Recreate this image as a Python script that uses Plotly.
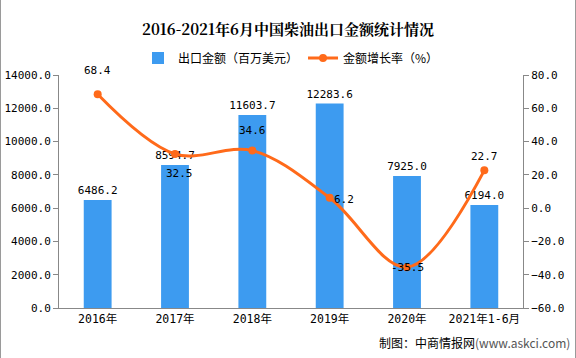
import plotly.graph_objects as go

categories = ["2016年", "2017年", "2018年", "2019年", "2020年", "2021年1-6月"]
export_value = [6486.2, 8594.7, 11603.7, 12283.6, 7925.0, 6194.0]
growth_rate = [68.4, 32.5, 34.6, 6.2, -35.5, 22.7]
left_ticks = [0, 2000, 4000, 6000, 8000, 10000, 12000, 14000]
right_ticks = [-60, -40, -20, 0, 20, 40, 60, 80]

num_font = "DejaVu Sans Mono, Noto Sans CJK SC"
cjk_font = "Noto Sans CJK SC"

fig = go.Figure()
fig.add_trace(go.Bar(
    x=categories, y=export_value, name="出口金额（百万美元）",
    marker=dict(color="#3D9BF0", line=dict(width=0)),
    width=0.36,
    text=[f"{v:.1f}" for v in export_value], textposition="outside",
    constraintext="none",
    textfont=dict(family=num_font, size=11, color="#000000"),
    cliponaxis=False,
))
fig.add_trace(go.Scatter(
    x=categories, y=growth_rate, name="金额增长率（%）", yaxis="y2",
    mode="lines+markers",
    line=dict(color="#FF6A1A", width=3, shape="spline", smoothing=1.0),
    marker=dict(color="#FF6A1A", size=8),
    cliponaxis=False,
))

# label offsets (pixels) for the growth-rate labels
label_shift = [(0, 24), (4, -19), (0, 20), (14, -2), (0, 0), (0, 14)]
line_annotations = []
for c, v, (dx, dy) in zip(categories, growth_rate, label_shift):
    line_annotations.append(dict(
        x=c, y=v, xref="x", yref="y2", text=f"{v:.1f}", showarrow=False,
        xshift=dx, yshift=dy, xanchor="center", yanchor="middle",
        font=dict(family=num_font, size=11, color="#000000")))

W, H = 576, 358
L, R, T, B = 59, 53, 75, 50
pw, ph = W - L - R, H - T - B

def px(x):
    return (x - L) / pw

def py(y):
    return (H - B - y) / ph

fig.update_layout(
    width=W, height=H,
    margin=dict(l=L, r=R, t=T, b=B, autoexpand=False),
    paper_bgcolor="white", plot_bgcolor="white",
    title=dict(text="<b>2016-2021年6月中国柴油出口金额统计情况</b>", x=0.5, xanchor="center",
               y=1 - 30 / H, yanchor="middle",
               font=dict(family="Noto Serif CJK SC, Noto Sans CJK SC", size=15, color="#000000")),
    legend=dict(orientation="h", x=0.5, xanchor="center", y=py(58), yanchor="middle",
                font=dict(family=cjk_font, size=12, color="#000000"),
                bgcolor="rgba(0,0,0,0)", itemwidth=30, traceorder="normal"),
    xaxis=dict(showline=True, linecolor="#888888", linewidth=1, ticks="",
               tickfont=dict(family=num_font, size=11.5, color="#000000"),
               showgrid=False, automargin=False),
    yaxis=dict(range=[0, 14000], tickvals=left_ticks, tickformat=".1f",
               showline=True, linecolor="#888888", linewidth=1,
               ticks="outside", ticklen=5, tickcolor="#888888",
               showgrid=False, zeroline=False, automargin=False,
               tickfont=dict(family=num_font, size=11, color="#000000")),
    yaxis2=dict(range=[-60, 80], tickvals=right_ticks, tickformat=".1f",
                overlaying="y", side="right",
                showline=True, linecolor="#888888", linewidth=1,
                ticks="outside", ticklen=5, tickcolor="#888888",
                showgrid=False, zeroline=False, automargin=False,
                tickfont=dict(family=num_font, size=11, color="#000000")),
    shapes=[
        dict(type="line", xref="paper", yref="paper", x0=px(0.5), x1=px(0.5), y0=py(0), y1=py(358),
             line=dict(color="#9a9a9a", width=1)),
        dict(type="line", xref="paper", yref="paper", x0=px(575.5), x1=px(575.5), y0=py(0), y1=py(358),
             line=dict(color="#9a9a9a", width=1)),
    ],
    annotations=line_annotations + [
        dict(text="制图：中商情报网<span style='color:#555555'>(www.askci.com)</span>",
             xref="paper", yref="paper", x=px(572), y=py(342), xanchor="right", yanchor="middle",
             showarrow=False, font=dict(family=cjk_font, size=12, color="#000000")),
    ],
)

fig.write_html("out.html", config={"displayModeBar": False},
               post_script="document.body.style.margin='0';document.body.style.padding='0';")
